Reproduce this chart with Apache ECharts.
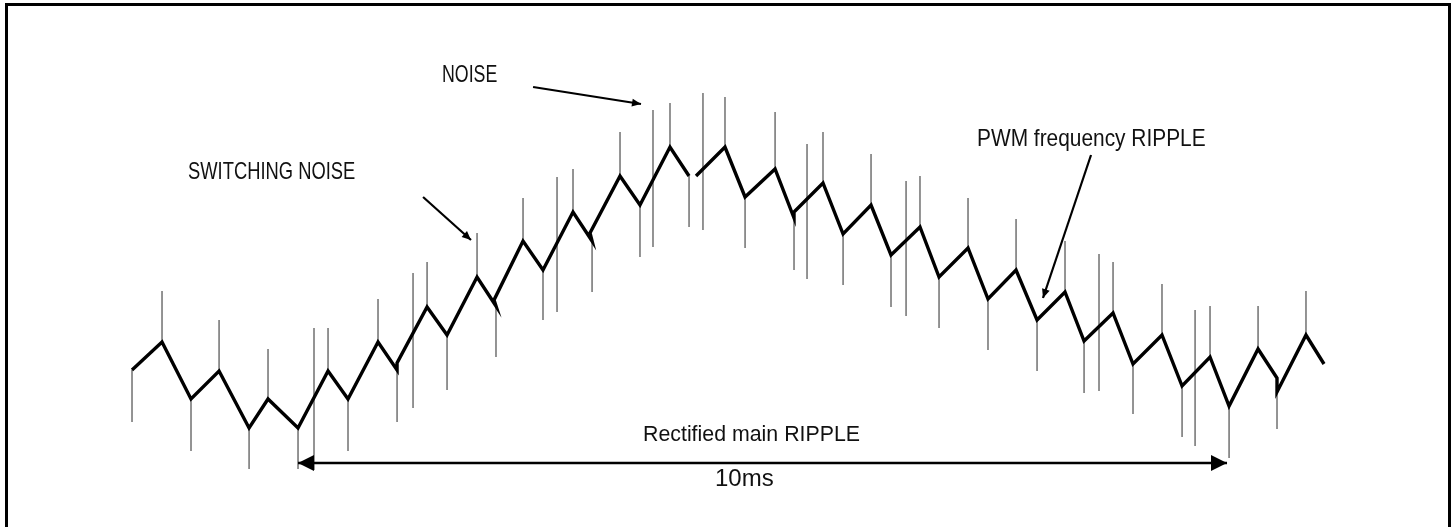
<!DOCTYPE html>
<html>
<head>
<meta charset="utf-8">
<script src="https://cdn.jsdelivr.net/npm/echarts@6/dist/echarts.min.js"></script>
<style>
html,body{margin:0;padding:0;background:#fff;}
#chart{width:1455px;height:527px;}
</style>
</head>
<body>
<div id="chart"></div>
<script>
// Time in ms (0 = start of the 10 ms rectified ripple span), amplitude in arbitrary units
const waveT = [-1.787,-1.464,-1.152,-0.850,-0.527,-0.323,0.000,0.323,0.538,0.861,1.066,1.066,1.389,1.604,1.927,2.131,2.110,2.422,2.637,2.960,3.165,3.143,3.466,3.681,4.004,4.209,4.246,4.284,4.596,4.812,5.135,5.339,5.339,5.651,5.867,6.168,6.383,6.695,6.900,7.212,7.427,7.729,7.955,8.256,8.461,8.773,8.988,9.300,9.516,9.817,10.022,10.334,10.538,10.538,10.850,11.044];
const waveV = [1.00,1.28,0.71,0.99,0.42,0.71,0.42,0.99,0.71,1.28,1.00,1.07,1.63,1.35,1.93,1.64,1.70,2.29,2.00,2.58,2.29,2.37,2.94,2.65,3.23,2.94,null,2.94,3.23,2.73,3.01,2.52,2.58,2.87,2.36,2.65,2.15,2.43,1.93,2.22,1.71,2.00,1.50,1.78,1.29,1.57,1.06,1.35,0.84,1.13,0.64,1.21,0.92,0.78,1.35,1.06];

// Switching-noise spikes
const spikeT = [-1.787,-1.464,-1.152,-0.850,-0.527,-0.323,0.000,0.172,0.323,0.538,0.861,1.066,1.238,1.389,1.604,1.927,2.131,2.422,2.637,2.788,2.960,3.165,3.466,3.681,3.821,4.004,4.209,4.359,4.596,4.812,5.135,5.339,5.479,5.651,5.867,6.168,6.383,6.545,6.695,6.900,7.212,7.427,7.729,7.955,8.256,8.461,8.622,8.773,8.988,9.300,9.516,9.656,9.817,10.022,10.334,10.538,10.850];
const spikeTop = [1.00,1.79,0.71,1.50,0.42,1.21,0.42,1.42,1.42,0.71,1.71,1.00,1.97,2.08,1.35,2.37,1.64,2.72,2.00,2.93,3.01,2.29,3.38,2.65,3.60,3.67,2.94,3.77,3.73,2.73,3.58,2.55,3.26,3.38,2.36,3.16,2.15,2.89,2.94,1.93,2.72,1.71,2.51,1.50,2.29,1.29,2.16,2.08,1.06,1.86,0.84,1.60,1.64,0.64,1.64,0.92,1.79];
const spikeBottom = [0.48,1.28,0.19,0.99,0.01,0.71,0.01,0.00,0.99,0.19,1.28,0.48,0.62,1.63,0.80,1.93,1.13,2.29,1.50,1.58,2.58,1.78,2.94,2.13,2.23,3.23,2.43,2.40,3.23,2.22,3.01,2.00,1.91,2.87,1.85,2.65,1.63,1.54,2.43,1.42,2.22,1.20,2.00,0.99,1.78,0.77,0.79,1.57,0.56,1.35,0.33,0.24,1.13,0.12,1.21,0.41,1.35];

// Annotation arrows
const arrowFromT = [1.346, 2.530, 8.536, 0.000];
const arrowFromV = [2.73, 3.83, 3.15, 0.07];
const arrowToT   = [1.862, 3.692, 8.019, 10.000];
const arrowToV   = [2.30, 3.66, 1.72, 0.07];
const arrowDouble = [false, false, false, true];

const labels = ['SWITCHING NOISE', 'NOISE', 'PWM frequency RIPPLE', 'Rectified main RIPPLE', '10ms'];

const chart = echarts.init(document.getElementById('chart'), null, {renderer: 'canvas'});

const waveData = waveT.map((t, i) => [t, waveV[i] === null ? '-' : waveV[i]]);
const spikeData = spikeT.map((t, i) => [t, spikeTop[i], spikeBottom[i]]);
const arrowData = arrowFromT.map((t, i) => [t, arrowFromV[i], arrowToT[i], arrowToV[i], arrowDouble[i] ? 1 : 0]);

const cadFont = '"Liberation Sans", Arial, sans-serif';

function head(tip, from, len, half) {
  const dx = tip[0] - from[0], dy = tip[1] - from[1];
  const d = Math.sqrt(dx * dx + dy * dy) || 1;
  const ux = dx / d, uy = dy / d;
  const bx = tip[0] - ux * len, by = tip[1] - uy * len;
  return [tip, [bx - uy * half, by + ux * half], [bx + uy * half, by - ux * half]];
}

function label(text, x, baseline, size, sx) {
  return {
    type: 'text', x: x, y: baseline - 0.347 * size, scaleX: sx, z: 10,
    style: {text: text, font: size + 'px ' + cadFont, fill: '#111',
            textAlign: 'left', textVerticalAlign: 'middle'}
  };
}

const option = {
  animation: false,
  backgroundColor: '#fff',
  grid: {left: 0, right: 0, top: 0, bottom: 0},
  xAxis: {type: 'value', min: -3.208, max: 12.454, show: false},
  yAxis: {type: 'value', min: -0.57, max: 4.70, show: false},
  series: [
    {
      type: 'custom',
      z: 1,
      data: spikeData,
      renderItem: function (params, api) {
        const a = api.coord([api.value(0), api.value(1)]);
        const b = api.coord([api.value(0), api.value(2)]);
        return {
          type: 'line',
          shape: {x1: a[0], y1: a[1], x2: b[0], y2: b[1]},
          style: {stroke: '#5a5a5a', lineWidth: 1.3}
        };
      }
    },
    {
      type: 'line',
      z: 3,
      data: waveData,
      showSymbol: false,
      connectNulls: false,
      clip: false,
      lineStyle: {color: '#000', width: 3.4, join: 'miter', cap: 'butt'}
    },
    {
      type: 'custom',
      z: 4,
      data: arrowData,
      renderItem: function (params, api) {
        const p0 = api.coord([api.value(0), api.value(1)]);
        const p1 = api.coord([api.value(2), api.value(3)]);
        const dbl = api.value(4) === 1;
        const len = dbl ? 16 : 9, half = dbl ? 8 : 4;
        const children = [
          {type: 'line', shape: {x1: p0[0], y1: p0[1], x2: p1[0], y2: p1[1]},
           style: {stroke: '#000', lineWidth: dbl ? 2.4 : 2.2}},
          {type: 'polygon', shape: {points: head(p1, p0, len, half)}, style: {fill: '#000'}}
        ];
        if (dbl) {
          children.push({type: 'polygon', shape: {points: head(p0, p1, len, half)}, style: {fill: '#000'}});
        }
        return {type: 'group', children: children};
      }
    }
  ],
  graphic: [
    {type: 'rect', z: 10, shape: {x: 6.5, y: 4.5, width: 1443, height: 600},
     style: {fill: 'none', stroke: '#000', lineWidth: 3}},
    label(labels[0], 188, 181, 24, 0.765),
    label(labels[1], 442, 84, 24, 0.74),
    label(labels[2], 977, 148, 24, 0.87),
    label(labels[3], 643, 443, 22, 0.97),
    {type: 'text', x: 715, y: 488 - 0.347 * 24, z: 10,
     style: {text: labels[4], font: '24px "Liberation Sans", Arial, sans-serif', fill: '#111',
             textAlign: 'left', textVerticalAlign: 'middle'}}
  ]
};

chart.setOption(option);
</script>
</body>
</html>
